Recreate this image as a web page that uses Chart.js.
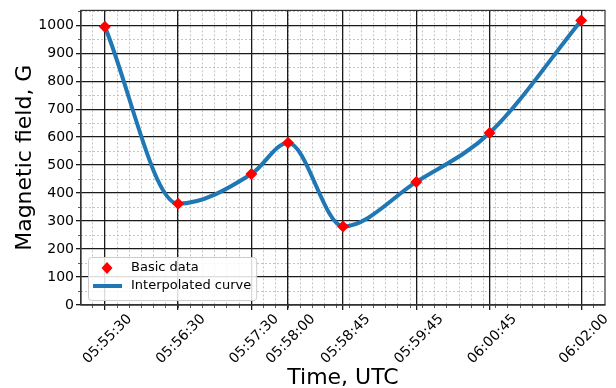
<!DOCTYPE html>
<html>
<head>
<meta charset="utf-8">
<script src="https://cdn.jsdelivr.net/npm/chart.js@4.4.1/dist/chart.umd.min.js"></script>
<style>
  html, body { margin: 0; padding: 0; background: #fff; }
  #wrap { width: 616px; height: 388px; }
</style>
</head>
<body>
<div id="wrap"><canvas id="magChart" width="616" height="388"></canvas></div>
<script>
// data
const timeLabels = ["05:55:30", "05:56:30", "05:57:30", "05:58:00", "05:58:45", "05:59:45", "06:00:45", "06:02:00"];
const fieldValues = [995, 362, 468, 580, 281, 440, 615, 1017];
const yTickValues = [0, 100, 200, 300, 400, 500, 600, 700, 800, 900, 1000];
const seriesNames = ["Basic data", "Interpolated curve"];

const FONT = "'DejaVu Sans', sans-serif";

function toSeconds(str) {
    const p = str.split(":").map(Number);
    return p[0] * 3600 + p[1] * 60 + p[2];
}
const t0 = toSeconds(timeLabels[0]);
const xs = timeLabels.map((t) => toSeconds(t) - t0);

function secondsToLabel(v) {
    const total = Math.round(t0 + v);
    const h = Math.floor(total / 3600);
    const m = Math.floor((total % 3600) / 60);
    const s = total % 60;
    return [h, m, s].map((n) => String(n).padStart(2, "0")).join(":");
}

const points = xs.map((x, i) => ({ x: x, y: fieldValues[i] }));

// axis limits (matplotlib-like 5% margin on x)
const span = xs[xs.length - 1] - xs[0];
const xMin = xs[0] - span * 0.05;
const xMax = xs[xs.length - 1] + span * 0.05;
const yMax = 1053;

// minor grid positions
const xMinorTicks = [];
for (let v = Math.ceil(xMin / 10) * 10; v <= xMax; v += 10) xMinorTicks.push(v);
const yMinorTicks = yTickValues.map((v) => v + 50).filter((v) => v <= yMax);

// frame on all four sides
const framePlugin = {
    id: "frame",
    beforeDatasetsDraw(chart) {
        const { ctx, chartArea } = chart;
        ctx.save();
        ctx.strokeStyle = "#333";
        ctx.lineWidth = 1.2;
        ctx.strokeRect(chartArea.left, chartArea.top, chartArea.right - chartArea.left, chartArea.bottom - chartArea.top);
        ctx.restore();
    },
};

// legend in the lower left corner of the plot
const insideLegend = {
    id: "insideLegend",
    afterDraw(chart) {
        const { ctx, chartArea } = chart;
        const ds = chart.data.datasets;
        ctx.save();
        ctx.font = "13px " + FONT;
        const textW = Math.max(...ds.map((d) => ctx.measureText(d.label).width));
        const x = chartArea.left + 7;
        const h = 43;
        const y = chartArea.bottom - 5 - h;
        const w = 43 + textW + 5;

        ctx.fillStyle = "rgba(255,255,255,0.85)";
        ctx.strokeStyle = "#cccccc";
        ctx.lineWidth = 1;
        ctx.beginPath();
        ctx.roundRect(x + 0.5, y + 0.5, w, h, 3);
        ctx.fill();
        ctx.stroke();

        const row1 = y + 11;
        const row2 = y + 29;
        // marker
        ctx.fillStyle = "#ff0000";
        ctx.beginPath();
        ctx.moveTo(x + 19, row1 - 6);
        ctx.lineTo(x + 24.5, row1);
        ctx.lineTo(x + 19, row1 + 6);
        ctx.lineTo(x + 13.5, row1);
        ctx.closePath();
        ctx.fill();
        // line sample
        ctx.strokeStyle = "#1f77b4";
        ctx.lineWidth = 4;
        ctx.beginPath();
        ctx.moveTo(x + 5, row2);
        ctx.lineTo(x + 34, row2);
        ctx.stroke();

        ctx.fillStyle = "#000";
        ctx.textBaseline = "middle";
        ctx.fillText(ds[0].label, x + 43, row1);
        ctx.fillText(ds[1].label, x + 43, row2);
        ctx.restore();
    },
};

const ctx = document.getElementById("magChart");

new Chart(ctx, {
    type: "line",
    data: {
        datasets: [
            {
                label: seriesNames[0],
                data: points,
                showLine: false,
                pointStyle: "rectRot",
                pointRadius: 6,
                pointBackgroundColor: "#ff0000",
                pointBorderColor: "#ff0000",
                pointBorderWidth: 0,
            },
            {
                label: seriesNames[1],
                data: points,
                borderColor: "#1f77b4",
                borderWidth: 4,
                cubicInterpolationMode: "monotone",
                pointRadius: 0,
                fill: false,
            },
        ],
    },
    options: {
        responsive: false,
        animation: false,
        layout: { padding: { top: 6, right: 11, left: 0, bottom: 0 } },
        plugins: {
            legend: { display: false },
            tooltip: { enabled: false },
        },
        scales: {
            x: {
                type: "linear",
                position: "bottom",
                min: xMin,
                max: xMax,
                afterBuildTicks: (s) => { s.ticks = xs.map((v) => ({ value: v })); },
                afterFit: (s) => { s.height = 83; },
                grid: { color: "#1a1a1a", lineWidth: 1.3, tickLength: 5, tickColor: "#1a1a1a" },
                border: { color: "#333", width: 1.2 },
                ticks: {
                    font: { family: FONT, size: 14 },
                    color: "#000",
                    minRotation: 45,
                    maxRotation: 45,
                    autoSkip: false,
                    labelOffset: 25,
                    padding: 1,
                    callback: (v) => secondsToLabel(v),
                },
                title: {
                    display: true,
                    text: "Time, UTC",
                    color: "#000",
                    font: { family: FONT, size: 22 },
                    padding: { top: 0, bottom: -3 },
                },
            },
            xMinor: {
                type: "linear",
                position: "bottom",
                weight: -1,
                min: xMin,
                max: xMax,
                afterBuildTicks: (s) => { s.ticks = xMinorTicks.map((v) => ({ value: v })); },
                afterFit: (s) => { s.height = 0; },
                grid: { color: "#b5b5b5", lineWidth: 0.8, tickLength: 3, tickColor: "#333", z: -2 },
                border: { display: false, dash: [2, 2] },
                ticks: { display: false },
            },
            y: {
                type: "linear",
                position: "left",
                min: 0,
                max: yMax,
                afterBuildTicks: (s) => { s.ticks = yTickValues.map((v) => ({ value: v })); },
                afterFit: (s) => { s.width = 81; },
                grid: { color: "#1a1a1a", lineWidth: 1.3, tickLength: 5, tickColor: "#1a1a1a" },
                border: { color: "#333", width: 1.2 },
                ticks: {
                    font: { family: FONT, size: 14 },
                    color: "#000",
                    padding: 2,
                    callback: (v) => String(v),
                },
                title: {
                    display: true,
                    text: "Magnetic field, G",
                    color: "#000",
                    font: { family: FONT, size: 22 },
                    padding: { top: 12, bottom: 0 },
                },
            },
            yMinor: {
                type: "linear",
                position: "left",
                weight: -1,
                min: 0,
                max: yMax,
                afterBuildTicks: (s) => { s.ticks = yMinorTicks.map((v) => ({ value: v })); },
                afterFit: (s) => { s.width = 0; },
                grid: { color: "#b5b5b5", lineWidth: 0.8, tickLength: 3, tickColor: "#333", z: -2 },
                border: { display: false, dash: [2, 2] },
                ticks: { display: false },
            },
        },
    },
    plugins: [framePlugin, insideLegend],
});
</script>
</body>
</html>
